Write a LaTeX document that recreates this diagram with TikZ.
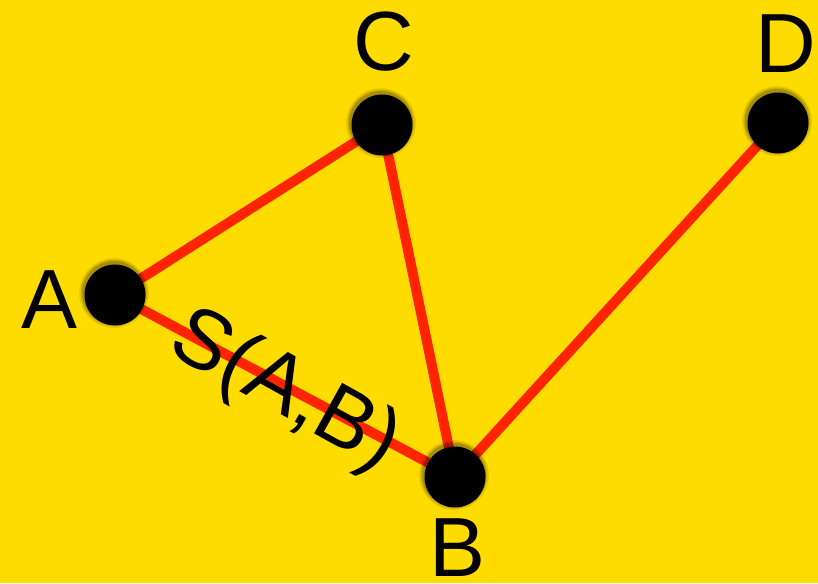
\documentclass[tikz,border=0pt]{standalone}
\usepackage{fontspec}
\setmainfont{Liberation Sans}
\definecolor{bgyellow}{HTML}{FFDC00}
\definecolor{edgered}{HTML}{FF2400}
\begin{document}
\begin{tikzpicture}[x=1pt,y=-1pt,
  edge/.style={draw=edgered,line width=10pt},
  dot/.style={circle,fill=black,minimum size=61pt,inner sep=0pt},
  lbl/.style={inner sep=0pt,font=\fontsize{84}{84}\selectfont}]
\fill[bgyellow] (0,0) rectangle (818,583);
\useasboundingbox (0,0) rectangle (818,583);
\coordinate (pA) at (115,295);
\coordinate (pB) at (455,477);
\coordinate (pC) at (382,125);
\coordinate (pD) at (778,123);
\draw[edge] (pA) -- (pC);
\draw[edge] (pC) -- (pB);
\draw[edge] (pA) -- (pB);
\draw[edge] (pB) -- (pD);
\foreach \p in {pA,pB,pC,pD}{
  \foreach \r/\o in {35/0.08,33.5/0.12,32/0.18}{
    \fill[black,opacity=\o] ([shift={(-1,-2)}]\p) circle (\r);
  }
}
\node[dot] (A) at (pA) {};
\node[dot] (B) at (pB) {};
\node[dot] (C) at (pC) {};
\node[dot] (D) at (pD) {};
\node[lbl] (lA) at (50,300) {A};
\node[lbl] (lB) at (458,548) {B};
\node[lbl] (lC) at (384,42) {C};
\node[lbl] (lD) at (786,44) {D};
\node[lbl,anchor=base,rotate=-29] (lS) at (274,411) {S(A,B)};
\end{tikzpicture}
\end{document}
